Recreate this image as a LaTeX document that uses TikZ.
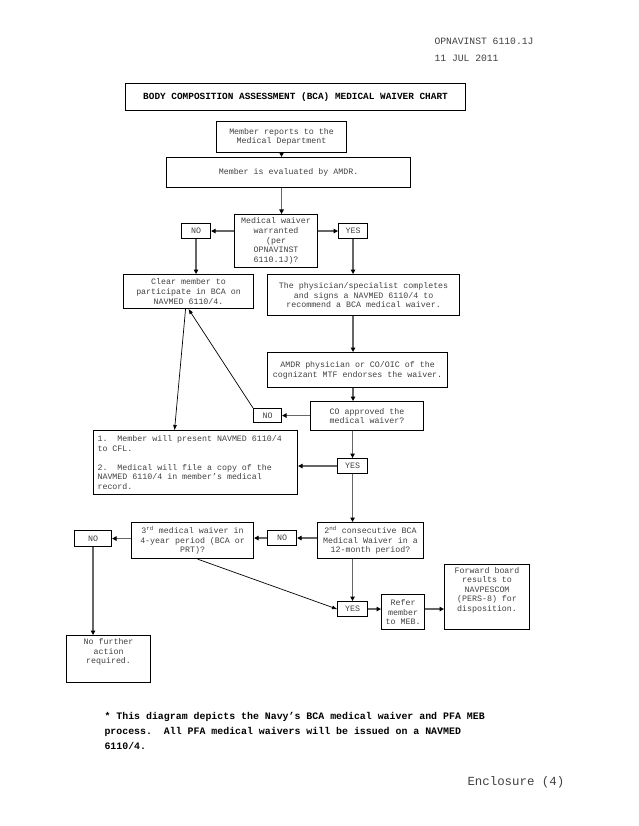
\documentclass[tikz,border=0pt]{standalone}
\usepackage{fontspec}
\newfontfamily\cour{Liberation Mono}
\usetikzlibrary{arrows.meta}

\tikzset{
  box/.style={draw=black,line width=1.1pt,inner sep=0pt,anchor=north west,
    align=center,text=black!75,font=\cour\fontsize{8.3}{9.6}\selectfont},
  flow/.style={draw=black!60,line width=1.3pt,
    -{Triangle[black,length=4.5pt,width=4.5pt]}},
  slant/.style={draw=black,line width=0.7pt,
    -{Triangle[black,length=5pt,width=3.5pt]}}
}

\begin{document}
\begin{tikzpicture}[x=1pt,y=-1pt]
      \useasboundingbox (0,0) rectangle (638,826);
      \node[anchor=west,text=black!75,font=\cour\fontsize{9.7}{11}\selectfont]
        (hdrA) at (431,41) {OPNAVINST 6110.1J};
      \node[anchor=west,text=black!75,font=\cour\fontsize{9.7}{11}\selectfont]
        (hdrB) at (431,58) {11 JUL 2011};
      \node[box,minimum width=340,minimum height=27,text=black,
        font=\cour\bfseries\fontsize{9.4}{11}\selectfont] (title) at (125,83)
        {BODY COMPOSITION ASSESSMENT (BCA) MEDICAL WAIVER CHART};
      % main column
      \node[box,minimum width=130,minimum height=31] (reports) at (216,121)
        {Member reports to the\\Medical Department};
      \node[box,minimum width=244,minimum height=30] (evaluated) at (166,157)
        {Member is evaluated by AMDR.};
      \node[box,minimum width=83,minimum height=53] (waiver) at (234,214)
        {Medical waiver\\warranted\\(per\\OPNAVINST\\6110.1J)?};
      \node[box,minimum width=29,minimum height=15] (noA) at (181,223) {NO};
      \node[box,minimum width=29,minimum height=15] (yesA) at (338,223) {YES};
      \node[box,minimum width=130,minimum height=34] (clear) at (123,274)
        {Clear member to\\participate in BCA on\\NAVMED 6110/4.};
      \node[box,minimum width=192,minimum height=41] (physician) at (267,274)
        {The physician/specialist completes\\and signs a NAVMED 6110/4 to\\recommend a BCA medical waiver.};
      \node[box,minimum width=180,minimum height=35] (amdr) at (267,352)
        {AMDR physician or CO/OIC of the\\cognizant MTF endorses the waiver.};
      \node[box,minimum width=113,minimum height=29] (coapp) at (310,401)
        {CO approved the\\medical waiver?};
      \node[box,minimum width=28,minimum height=14] (noB) at (253,408) {NO};
      \node[box,text width=196,inner xsep=4pt,minimum height=64,align=left]
        (present) at (93,430)
        {\spaceskip=0.6em\relax
         1.\ \ Member will present NAVMED 6110/4\\to CFL.\\[9.6pt]
         2.\ \ Medical will file a copy of the\\NAVMED 6110/4 in member’s medical\\record.};
      \node[box,minimum width=30,minimum height=15] (yesB) at (337,458) {YES};
      % lower row
      \node[box,minimum width=106,minimum height=36] (second) at (317,522)
        {2\textsuperscript{nd} consecutive BCA\\Medical Waiver in a\\12-month period?};
      \node[box,minimum width=29,minimum height=15] (noC) at (267,530) {NO};
      \node[box,minimum width=122,minimum height=36] (third) at (131,522)
        {3\textsuperscript{rd} medical waiver in\\4-year period (BCA or\\PRT)?};
      \node[box,minimum width=37,minimum height=16] (noD) at (74,530) {NO};
      \node[box,minimum width=84,minimum height=47] (noaction) at (66,635)
        {No further\\action\\required.\\[6pt]};
      \node[box,minimum width=30,minimum height=15] (yesC) at (337,601) {YES};
      \node[box,minimum width=43,minimum height=35] (refer) at (381,594)
        {Refer\\member\\to MEB.};
      \node[box,minimum width=85,minimum height=65] (forward) at (444,564)
        {Forward board\\results to\\NAVPESCOM\\(PERS-8) for\\disposition.\\[6pt]};
      % connectors
      \draw[flow] (reports.south) -- (reports.south |- evaluated.north);
      \draw[flow] (reports.south |- evaluated.south) -- (reports.south |- waiver.north);
      \draw[flow] (noA.east -| waiver.west) -- (noA.east);
      \draw[flow] (yesA.west -| waiver.east) -- (yesA.west);
      \draw[flow] (noA.south) -- (noA.south |- clear.north);
      \draw[flow] (yesA.south) -- (yesA.south |- physician.north);
      \draw[flow] (yesA.south |- physician.south) -- (yesA.south |- amdr.north);
      \draw[flow] (yesA.south |- amdr.south) -- (yesA.south |- coapp.north);
      \draw[flow] (noB.east -| coapp.west) -- (noB.east);
      \draw[flow] (yesB.north |- coapp.south) -- (yesB.north);
      \draw[flow] (yesB.west) -- (yesB.west -| present.east);
      \draw[slant] (noB.north west) -- (clear.south);
      \draw[slant] ([xshift=-3pt]clear.south) -- ([xshift=-21pt]present.north);
      \draw[flow] (yesB.south) -- (yesB.south |- second.north);
      \draw[flow] (noC.east -| second.west) -- (noC.east);
      \draw[flow] (noC.west) -- (noC.west -| third.east);
      \draw[flow] (noD.east -| third.west) -- (noD.east);
      \draw[flow] (noD.south) -- (noD.south |- noaction.north);
      \draw[flow] (yesC.north |- second.south) -- (yesC.north);
      \draw[slant] ([xshift=5pt]third.south) -- (yesC.west);
      \draw[flow] (yesC.east) -- (yesC.east -| refer.west);
      \draw[flow] (yesC.east -| refer.east) -- (yesC.east -| forward.west);
      % footnote
      \node[anchor=north west,align=left,font=\cour\bfseries\fontsize{9.9}{15}\selectfont]
        (note) at (101,709)
        {* This diagram depicts the Navy’s BCA medical waiver and PFA MEB\\
         process.\ \ All PFA medical waivers will be issued on a NAVMED\\
         6110/4.};
      \node[anchor=west,text=black!75,font=\cour\fontsize{12.4}{14}\selectfont]
        (encl) at (464,782) {Enclosure (4)};
\end{tikzpicture}
\end{document}
